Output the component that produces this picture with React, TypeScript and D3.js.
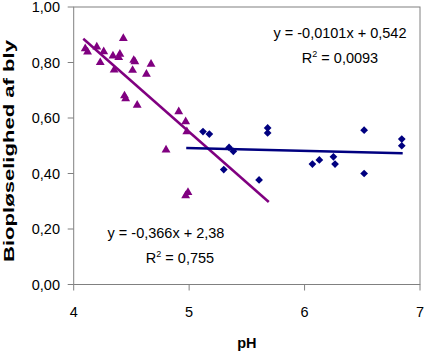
import React from "react";
import * as d3 from "d3";

const triX = [4.10, 4.12, 4.20, 4.26, 4.23, 4.43, 4.34, 4.40, 4.39, 4.35, 4.52, 4.53, 4.51, 4.67, 4.63, 4.44, 4.45, 4.55, 4.91, 4.97, 4.98, 4.80, 4.99, 4.97];
const triY = [0.850, 0.838, 0.856, 0.839, 0.800, 0.887, 0.824, 0.830, 0.818, 0.773, 0.808, 0.803, 0.772, 0.794, 0.758, 0.680, 0.670, 0.646, 0.623, 0.587, 0.551, 0.485, 0.332, 0.320];
const diaX = [5.12, 5.175, 5.346, 5.383, 5.30, 5.606, 5.68, 5.68, 6.068, 6.128, 6.25, 6.264, 6.516, 6.516, 6.842, 6.842];
const diaY = [0.551, 0.542, 0.494, 0.480, 0.414, 0.377, 0.564, 0.546, 0.434, 0.449, 0.460, 0.434, 0.556, 0.400, 0.524, 0.500];
const triFit = { slope: -0.366, intercept: 2.38, x0: 4.083, x1: 5.69 };
const diaFit = { slope: -0.0101, intercept: 0.542, x0: 4.975, x1: 6.85 };
const xTicks = [4, 5, 6, 7];
const yTicks = [0, 0.2, 0.4, 0.6, 0.8, 1.0];

export default function App() {
  const W = 425, H = 352;
  const left = 73.7, right = 420, top = 7, bottom = 284.5;
  const x = d3.scaleLinear().domain([4, 7]).range([left, right]);
  const y = d3.scaleLinear().domain([0, 1]).range([bottom, top]);
  const font = "Arial, 'Liberation Sans', sans-serif";
  const tri = d3.symbol().type(d3.symbolTriangle).size(34)() as string;
  const sq = d3.symbol().type(d3.symbolSquare).size(30)() as string;
  const fmt = (v: number) => v.toFixed(2).replace(".", ",");
  const fitPath = (f: typeof triFit) =>
    d3.line<number>().x((d) => x(d)).y((d) => y(f.slope * d + f.intercept))([f.x0, f.x1]) as string;
  return (
    <svg width={W} height={H} style={{ position: "absolute", left: 0, top: 0, background: "#fff" }}>
      <rect x={left} y={top} width={right - left} height={bottom - top} fill="none" stroke="#808080" strokeWidth={1} />
      {yTicks.map((t) => (
        <g key={"y" + t}>
          <line x1={left - 6} x2={left} y1={y(t)} y2={y(t)} stroke="#808080" />
          <text x={60} y={y(t) + 5} textAnchor="end" fontFamily={font} fontSize={14.5} fill="#000">{fmt(t)}</text>
        </g>
      ))}
      {xTicks.map((t) => (
        <g key={"x" + t}>
          <line x1={x(t)} x2={x(t)} y1={bottom} y2={bottom + 6} stroke="#808080" />
          <text x={x(t)} y={317} textAnchor="middle" fontFamily={font} fontSize={14.5} fill="#000">{t}</text>
        </g>
      ))}
      <text x={(left + right) / 2} y={348} textAnchor="middle" fontFamily={font} fontSize={14.5} fontWeight="bold">pH</text>
      <text transform={`translate(13.5,151) rotate(-90)`} textAnchor="middle" fontFamily={font} fontSize={14.5} fontWeight="bold" textLength={222} lengthAdjust="spacingAndGlyphs">Biopløselighed af bly</text>
      {triX.map((v, i) => (
        <path key={"t" + i} d={tri} transform={`translate(${x(v)},${y(triY[i])})`} fill="#800080" />
      ))}
      {diaX.map((v, i) => (
        <path key={"d" + i} d={sq} transform={`translate(${x(v)},${y(diaY[i])}) rotate(45)`} fill="#000080" />
      ))}
      <path d={fitPath(triFit)} stroke="#800080" strokeWidth={2.5} fill="none" />
      <path d={fitPath(diaFit)} stroke="#000080" strokeWidth={2.5} fill="none" />
      <text x={340} y={38} textAnchor="middle" fontFamily={font} fontSize={14.5}>y = -0,0101x + 0,542</text>
      <text x={340} y={63} textAnchor="middle" fontFamily={font} fontSize={14.5}>R<tspan dy={-6} fontSize={9}>2</tspan><tspan dy={6}> = 0,0093</tspan></text>
      <text x={166} y={238} textAnchor="middle" fontFamily={font} fontSize={14.5}>y = -0,366x + 2,38</text>
      <text x={180} y={263} textAnchor="middle" fontFamily={font} fontSize={14.5}>R<tspan dy={-6} fontSize={9}>2</tspan><tspan dy={6}> = 0,755</tspan></text>
    </svg>
  );
}
